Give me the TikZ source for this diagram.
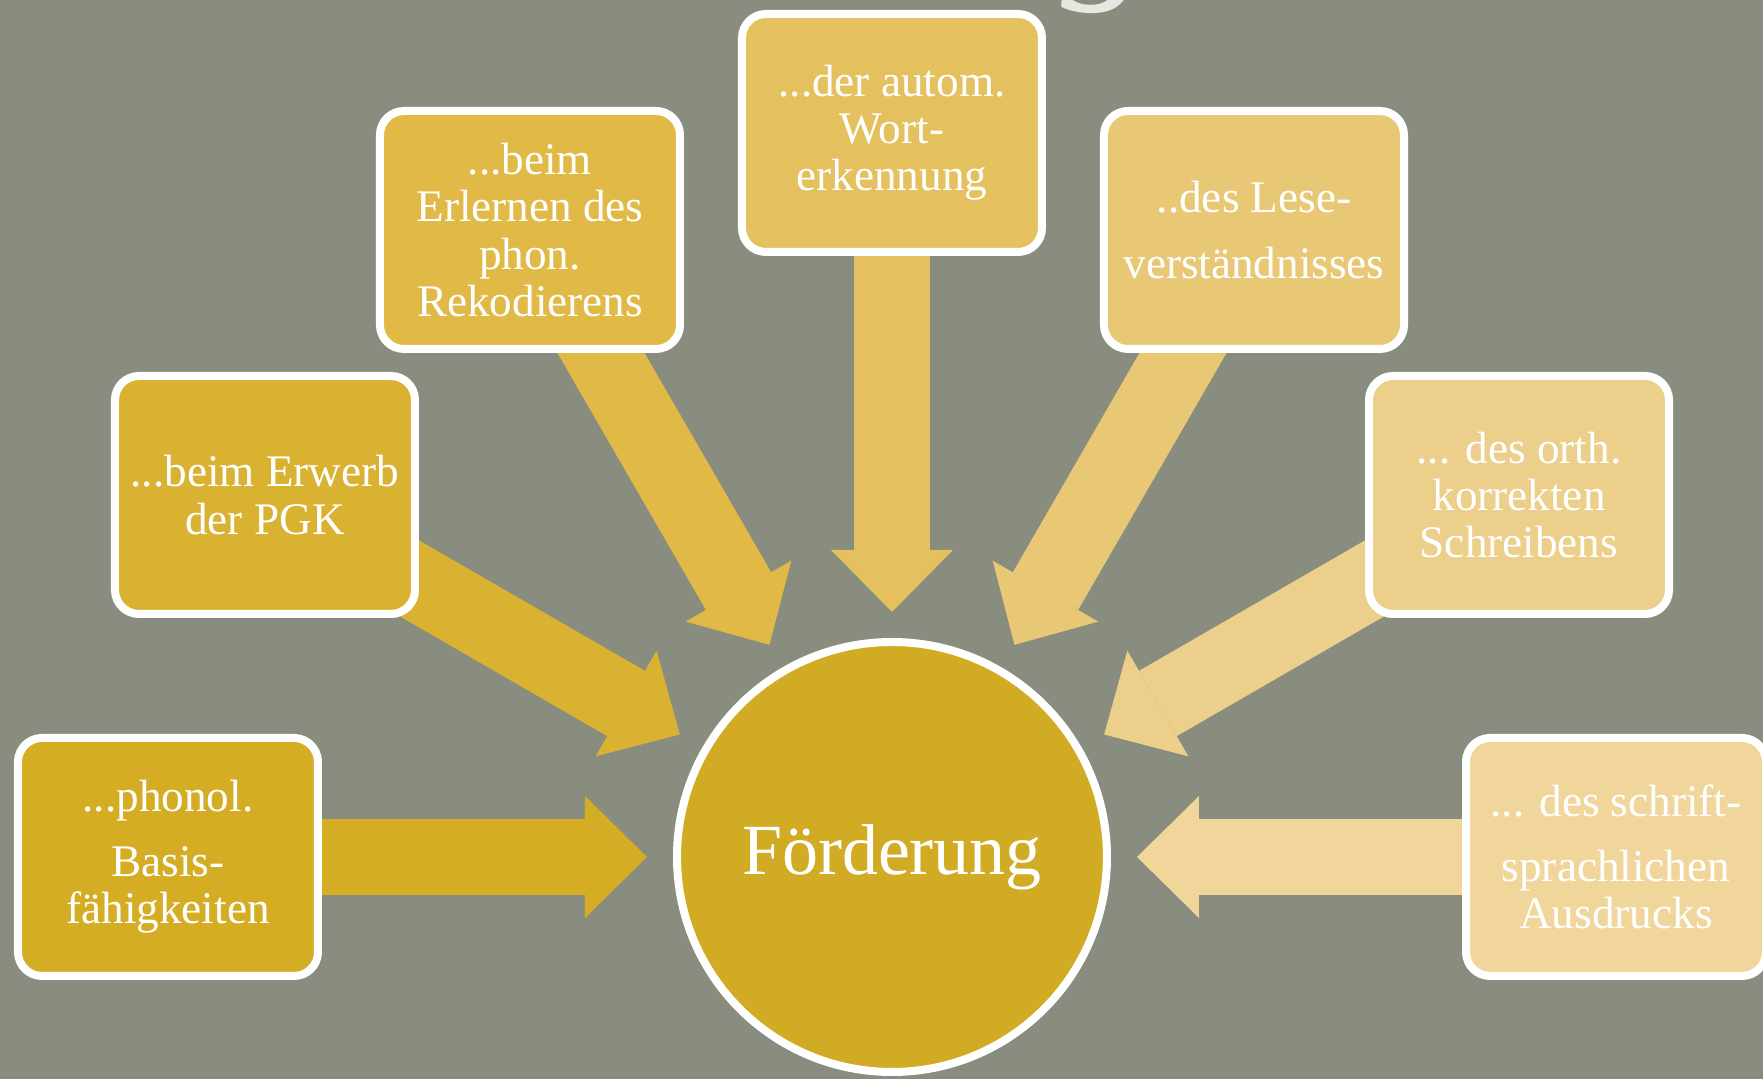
\documentclass[tikz,border=0pt]{standalone}
\usepackage{fontspec}
\setmainfont{Liberation Serif}
\usepackage{xcolor}
\usepackage{tikz}
\usetikzlibrary{positioning,arrows.meta}
\definecolor{board}{HTML}{888D7F}
\definecolor{hubfill}{HTML}{D2AB24}
\definecolor{tone1}{HTML}{D4AD24}
\definecolor{tone2}{HTML}{DAB232}
\definecolor{tone3}{HTML}{E1B946}
\definecolor{tone4}{HTML}{E4C05E}
\definecolor{tone5}{HTML}{E8C875}
\definecolor{tone6}{HTML}{EBCF8A}
\definecolor{tone7}{HTML}{F0D69B}
\definecolor{shine}{HTML}{E6E7E2}
\pgfdeclarelayer{back}
\pgfsetlayers{back,main}

\begin{document}
\begin{tikzpicture}[
        topic/.style={
            rectangle,
            draw=white,
            line width=4pt,
            text=white,
            align=center,
            rounded corners=12pt,
            minimum width=150pt,
            minimum height=119pt,
            inner sep=2pt,
            font=\fontsize{22.6}{23.6}\selectfont
        },
        core/.style={
            circle,
            draw=white,
            line width=4pt,
            fill=hubfill,
            text=white,
            minimum size=215pt,
            font=\fontsize{36}{40}\selectfont
        },
        arrow/.style={
            -{Triangle[length=31pt,width=61pt,line width=0pt]},
            line width=37.7pt,
            shorten >=13pt
        }
    ]
        \useasboundingbox (-446pt,-111pt) rectangle (435.5pt,428.5pt);
        \begin{pgfonlayer}{back}
            \fill[board] (-446pt,-111pt) rectangle (435.5pt,428.5pt);
        \end{pgfonlayer}

        % heading runs off the top edge, only the tail of its g shows
        \node (title) [anchor=base, text=shine, font=\itshape\fontsize{92}{92}\selectfont] at (108pt,441pt) {g};

        \node (hub) [core] at (0,0) {Förderung};
        \node (phon) [topic, fill=tone1] at (180:362pt) {...phonol.\\[9pt]Basis-\\fähigkeiten};
        \node (pgk) [topic, fill=tone2] at (150:362pt) {...beim Erwerb\\der PGK};
        \node (rekod) [topic, fill=tone3] at (120:362pt) {...beim\\Erlernen des\\phon.\\Rekodierens};
        \node (wort) [topic, fill=tone4] at (90:362pt) {...der autom.\\Wort-\\erkennung};
        \node (lese) [topic, fill=tone5] at (60:362pt) {..des Lese-\\[9pt]verständnisses};
        \node (orth) [topic, fill=tone6] at (30:362pt) {... des orth.\\korrekten\\Schreibens};
        \node (ausdr) [topic, fill=tone7] at (0:362pt) {... des schrift-\\[9pt]sprachlichen\\Ausdrucks};

        % block arrows sit under the boxes
        \begin{pgfonlayer}{back}
            \draw[arrow, tone1] (phon.center) -- (hub);
            \draw[arrow, tone2] (pgk.center) -- (hub);
            \draw[arrow, tone3] (rekod.center) -- (hub);
            \draw[arrow, tone4] (wort.center) -- (hub);
            \draw[arrow, tone5] (lese.center) -- (hub);
            \draw[arrow, tone6] (orth.center) -- (hub);
            \draw[arrow, tone7] (ausdr.center) -- (hub);
        \end{pgfonlayer}
    \end{tikzpicture}
\end{document}
